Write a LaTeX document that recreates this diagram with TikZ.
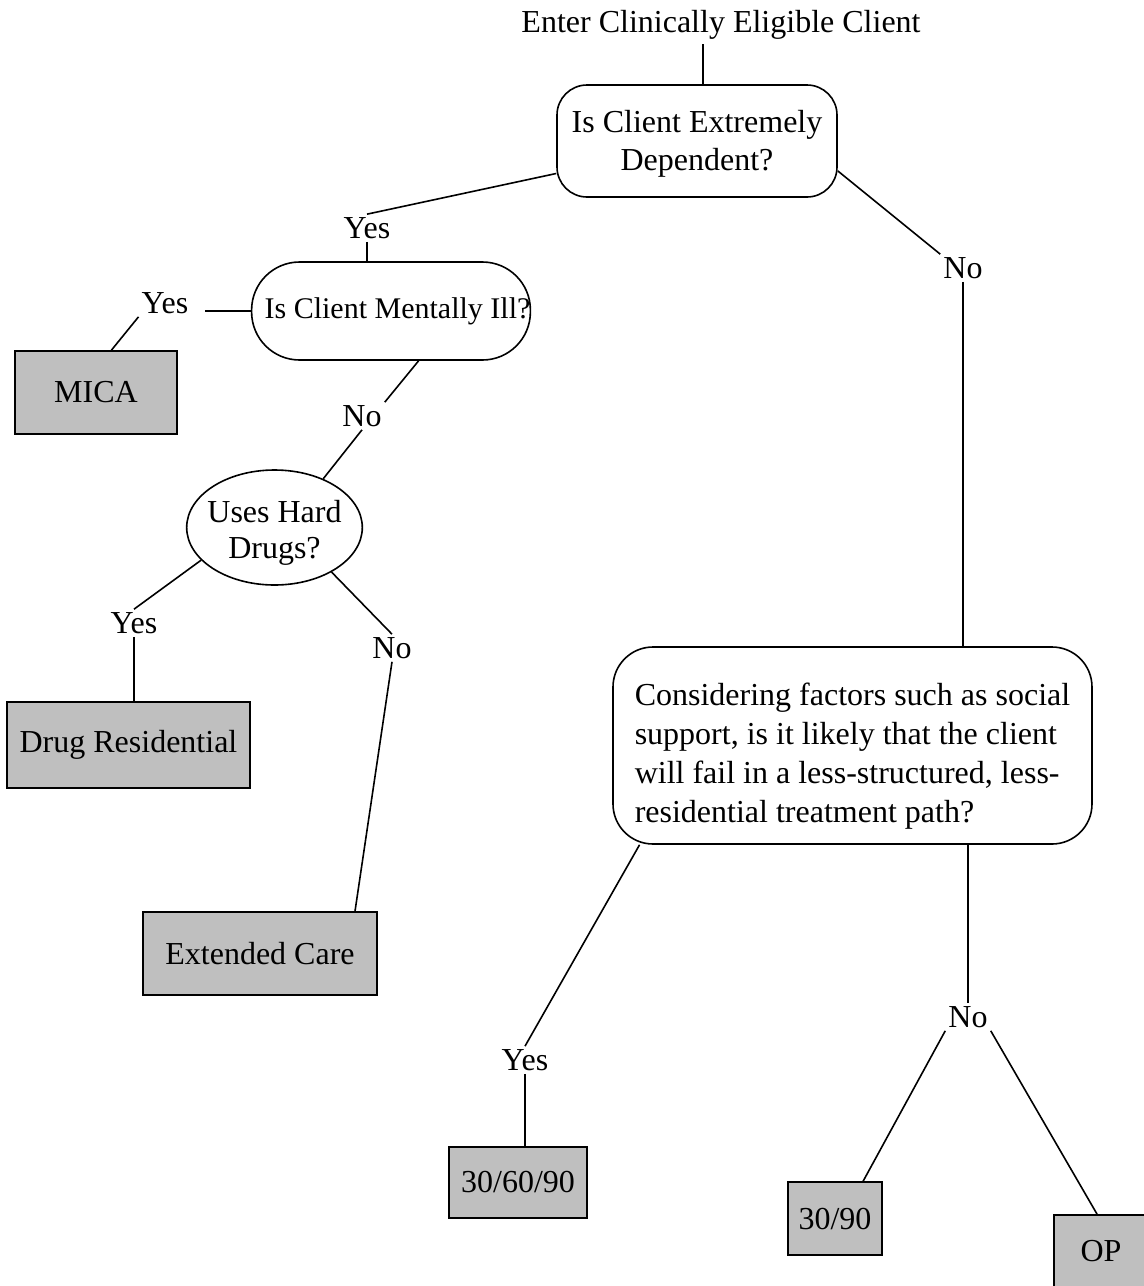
\documentclass[tikz,border=0pt]{standalone}
\usepackage{fontspec}
\setmainfont{Liberation Serif}
\usepackage{tikz}
\usetikzlibrary{calc}
\usetikzlibrary{shapes.geometric}

\tikzset{
	question/.style={draw,line width=1.6pt,align=center,inner sep=0pt},
	outcome/.style={draw,line width=1.6pt,fill=black!25,inner sep=0pt},
	answer/.style={inner sep=3pt},
	link/.style={line width=1.6pt}
}

\begin{document}
\begin{tikzpicture}[x=1pt,y=-1pt,font=\fontsize{32}{40}\selectfont]
		\useasboundingbox (0,0) rectangle (1144,1286);
		\clip (0,0) rectangle (1144,1286);
		\node[inner sep=4pt] (enter) at (721,25) {Enter Clinically Eligible Client};
		\node[question,rounded corners=30pt,minimum width=280pt,minimum height=112pt,font=\fontsize{32}{38}\selectfont] (dependent) at (697,141) {\rule{0pt}{28pt}Is Client Extremely\\Dependent?};
		\node[question,rounded corners=48pt,minimum height=98pt,font=\fontsize{30}{36}\selectfont] (ill) at (391,311) {\hspace*{13pt}Is Client Mentally Ill?};
		\node[question,ellipse,inner xsep=-5pt,minimum width=175pt,minimum height=115pt,font=\fontsize{32}{36}\selectfont] (harddrugs) at (274.5,527.5) {\rule{0pt}{32pt}Uses Hard\\Drugs?};
		\node[question,rounded corners=40pt,align=left,minimum width=479pt,minimum height=197pt,font=\fontsize{32}{39}\selectfont] (likely) at (852.5,745.5) {\rule{0pt}{44pt}Considering factors such as social\\support, is it likely that the client\\will fail in a less-structured, less-\\residential treatment path?};
		\node[outcome,minimum width=162pt,minimum height=83pt] (mica) at (96,392.5) {MICA};
		\node[outcome,minimum width=243pt,minimum height=86pt] (drugres) at (128.5,745) {Drug Residential};
		\node[outcome,minimum width=234pt,minimum height=83pt] (extcare) at (260,953.5) {Extended Care};
		\node[outcome,minimum width=138pt,minimum height=71pt] (b306090) at (518,1182.5) {30/60/90};
		\node[outcome,minimum width=94pt,minimum height=73pt] (b3090) at (835,1218.5) {30/90};
		\node[outcome,minimum width=94pt,minimum height=73pt] (op) at (1101,1251.5) {OP};
		\node[answer] (yes1) at (367,228) {Yes};
		\node[answer] (no1) at (963,268) {No};
		\node[answer] (yes2) at (165,303) {Yes};
		\node[answer] (no2) at (362,416) {No};
		\node[answer] (yes3) at (134,623) {Yes};
		\node[answer] (no3) at (392,648) {No};
		\node[answer] (yes4) at (525,1060) {Yes};
		\node[answer] (no4) at (968,1017) {No};
		\draw[link] ($(dependent.north)+(6,0)$) -- ($(dependent.north |- enter.south)+(6,0)$);
		\draw[link] (dependent.193) -- (yes1.north);
		\draw[link] (yes1.south) -- (yes1.south |- ill.north);
		\draw[link] (dependent.-12) -- (no1.north west);
		\draw[link] (no1.south) -- (no1.south |- likely.north);
		\draw[link] (ill.west) -- ($(ill.west -| yes2.east)+(14,0)$);
		\draw[link] (yes2.south west) -- (mica.70);
		\draw[link] (ill.-61) -- (no2.north east);
		\draw[link] (no2.south) -- (harddrugs.45);
		\draw[link] (harddrugs.204) -- (yes3.north);
		\draw[link] (yes3.south) -- (yes3.south |- drugres.north);
		\draw[link] (harddrugs.-38) -- (no3.north);
		\draw[link] (no3.south) -- (extcare.24);
		\draw[link] (likely.205) -- (yes4.north);
		\draw[link] (yes4.south) -- (yes4.south |- b306090.north);
		\draw[link] (no4.north) -- (no4.north |- likely.south);
		\draw[link] (no4.south west) -- (b3090.53);
		\draw[link] (no4.south east) -- (op.96);
	\end{tikzpicture}
\end{document}
